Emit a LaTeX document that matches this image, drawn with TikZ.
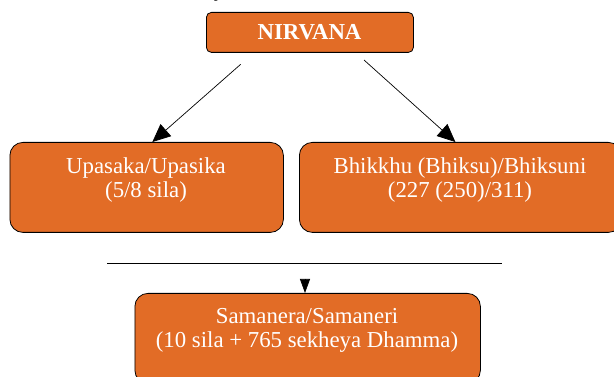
\documentclass[tikz,border=0pt]{standalone}
\usepackage{fontspec}
\setmainfont{Liberation Serif}
\usetikzlibrary{arrows.meta}
\definecolor{boxorange}{RGB}{226,108,38}
\begin{document}
\begin{tikzpicture}[x=1pt,y=-1pt,
  box/.style={draw=black,line width=0.8pt,fill=boxorange,inner sep=0pt,anchor=north west},
  boxtext/.style={text=white,align=center,inner sep=0pt,anchor=north,
    font=\fontsize{22.8}{24}\selectfont},
  arr/.style={line width=0.7pt,-{Triangle[length=18pt,width=16pt]}},
  smallarr/.style={line width=0.7pt,-{Triangle[length=14pt,width=10pt]}}]
\useasboundingbox (0,0) rectangle (614,377);
\clip (0,0) rectangle (614,377);
% cropped caption letter above
\node[anchor=base,inner sep=0pt,font=\fontsize{22}{24}\itshape] (ycap) at (221,-3) {y};
% boxes
\node[box,rounded corners=5pt,minimum width=207pt,minimum height=40pt] (nirvana) at (206,12) {};
\node[text=white,inner sep=0pt,anchor=base,font=\fontsize{22.8}{24}\selectfont\bfseries] (nirvanat) at (309.5,40) {NIRVANA};
\node[box,rounded corners=13pt,minimum width=273.5pt,minimum height=90pt] (upasaka) at (9.5,142) {};
\node[boxtext] (upasakat) at (146,157.5) {Upasaka/Upasika\\(5/8 sila)};
\node[box,rounded corners=13pt,minimum width=322pt,minimum height=90pt] (bhikkhu) at (299,142) {};
\node[boxtext] (bhikkhut) at (460,157.5) {Bhikkhu (Bhiksu)/Bhiksuni\\(227 (250)/311)};
\node[box,rounded corners=13pt,minimum width=345.5pt,minimum height=90pt] (samanera) at (134.5,293) {};
\node[boxtext] (samanerat) at (307,308) {Samanera/Samaneri\\(10 sila + 765 sekheya Dhamma)};
% connectors
\coordinate (ls) at (240.7,64.3);
\coordinate (rs) at (364,60);
\draw[arr] (ls) -- ([xshift=5.7pt]upasaka.north);
\draw[arr] (rs) -- ([xshift=-5pt]bhikkhu.north);
\coordinate (hl) at (107,263.3);
\coordinate (hr) at (502,263.3);
\draw[line width=0.9pt] (hl) -- (hr);
\coordinate (sa) at (305,279);
\draw[smallarr] (sa) -- (sa |- samanera.north);
\end{tikzpicture}
\end{document}
